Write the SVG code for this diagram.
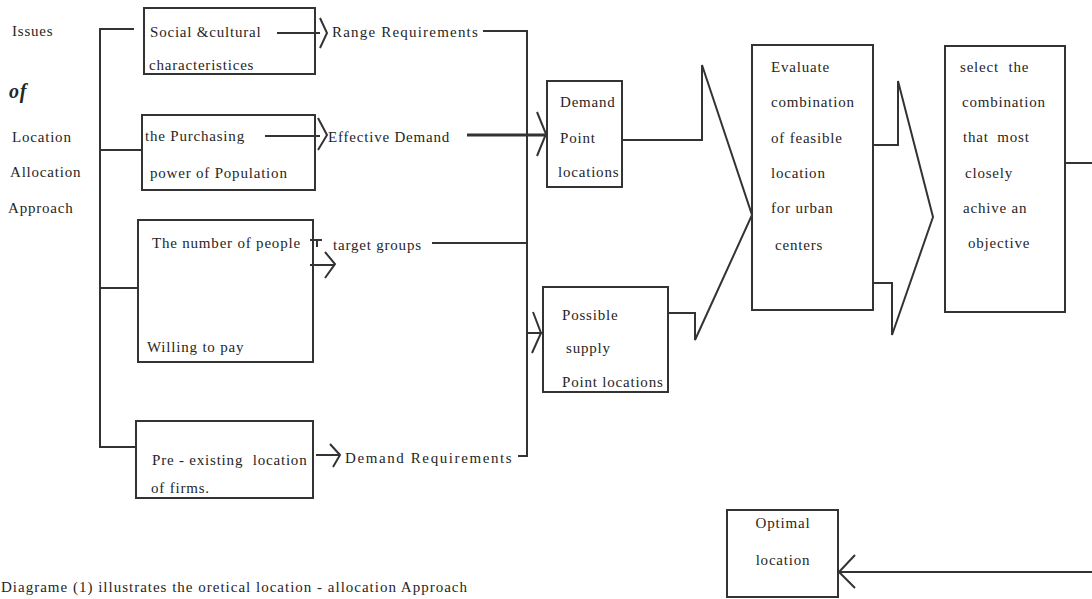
<svg xmlns="http://www.w3.org/2000/svg" width="1092" height="599" viewBox="0 0 1092 599">
<style>
.t { font-family: "Liberation Serif", "Times New Roman", serif; font-size: 15px; fill: #262626; letter-spacing: 0.8px; }
.m { text-anchor: middle; }
.box { fill: none; stroke: #333; stroke-width: 2; }
.ln { fill: none; stroke: #333; stroke-width: 2; stroke-linejoin: miter; }
.thick { stroke-width: 3; }
</style>
<rect width="1092" height="599" fill="#ffffff"/>

<g id="title-label">
  <text class="t" x="12" y="36">Issues</text>
  <text class="t" x="9" y="98" style="font-weight:bold;font-style:italic;font-size:20px">of</text>
  <text class="t" x="12" y="142">Location</text>
  <text class="t" x="10" y="177">Allocation</text>
  <text class="t" x="8" y="213">Approach</text>
</g>

<g id="social">
  <rect class="box" x="144" y="8" width="171" height="66"/>
  <text class="t" x="150" y="37">Social &amp;cultural</text>
  <text class="t" x="149" y="70">characteristices</text>
</g>

<g id="purchasing">
  <rect class="box" x="142" y="115" width="173" height="75"/>
  <text class="t" x="145" y="141">the Purchasing</text>
  <text class="t" x="150" y="178">power of Population</text>
</g>

<g id="people">
  <rect class="box" x="138" y="220" width="175" height="142"/>
  <text class="t" x="152" y="248">The number of people</text>
  <text class="t" x="147" y="352">Willing to pay</text>
</g>

<g id="preexisting">
  <rect class="box" x="136" y="421" width="177" height="77"/>
  <text class="t" x="152" y="465">Pre - existing <tspan dx="5">location</tspan></text>
  <text class="t" x="151" y="493">of firms.</text>
</g>

<g id="range"><text class="t" x="332" y="37" style="letter-spacing:1.2px">Range Requirements</text></g>
<g id="effective"><text class="t" x="328" y="142">Effective Demand</text></g>
<g id="target"><text class="t" x="333" y="250">target groups</text></g>
<g id="demand-req"><text class="t" x="345" y="463" style="letter-spacing:1.6px">Demand Requirements</text></g>

<g id="demand-point">
  <rect class="box" x="547" y="81" width="75" height="106"/>
  <text class="t" x="560" y="107">Demand</text>
  <text class="t" x="560" y="143">Point</text>
  <text class="t" x="558" y="177">locations</text>
</g>

<g id="supply-point">
  <rect class="box" x="543" y="287" width="125" height="105"/>
  <text class="t" x="562" y="320">Possible</text>
  <text class="t" x="566" y="353">supply</text>
  <text class="t" x="562" y="387">Point locations</text>
</g>

<g id="evaluate">
  <rect class="box" x="752" y="45" width="121" height="265"/>
  <text class="t" x="771" y="72">Evaluate</text>
  <text class="t" x="771" y="107">combination</text>
  <text class="t" x="771" y="143">of feasible</text>
  <text class="t" x="771" y="178">location</text>
  <text class="t" x="771" y="213">for urban</text>
  <text class="t" x="775" y="250">centers</text>
</g>

<g id="select">
  <rect class="box" x="945" y="46" width="120" height="266"/>
  <text class="t" x="960" y="72" style="word-spacing:5px">select the</text>
  <text class="t" x="962" y="107">combination</text>
  <text class="t" x="963" y="142" style="word-spacing:4px">that most</text>
  <text class="t" x="965" y="178">closely</text>
  <text class="t" x="963" y="213">achive an</text>
  <text class="t" x="968" y="248">objective</text>
</g>

<g id="optimal">
  <rect class="box" x="727" y="510" width="111" height="87"/>
  <text class="t m" x="783" y="528">Optimal</text>
  <text class="t m" x="783" y="565">location</text>
</g>

<g id="caption">
  <text class="t" x="1" y="592" style="letter-spacing:1px">Diagrame (1) illustrates the oretical location - allocation Approach</text>
</g>

<g id="connectors">
  <path class="ln" d="M134,29 H100 V447 H136"/>
  <path class="ln" d="M100,150 H142"/>
  <path class="ln" d="M100,288 H138"/>
  <path class="ln" d="M277,33 H320"/>
  <path class="ln" d="M320,18 L327,33 L320,48"/>
  <path class="ln" d="M483,31 H527 V456 H518"/>
  <path class="ln" d="M265,136 H320"/>
  <path class="ln" d="M318,118 L327,135 L318,150"/>
  <path class="ln thick" d="M467,135 H545"/>
  <path class="ln" d="M537,112 L546,134 L537,156"/>
  <path class="ln" d="M310,240 H322 M317,240 V247"/>
  <path class="ln" d="M310,265 H334"/>
  <path class="ln" d="M325,252 L335,264 L325,278"/>
  <path class="ln" d="M432,243 H527"/>
  <path class="ln" d="M527,333 H543"/>
  <path class="ln" d="M533,312 L541,333 L532,353"/>
  <path class="ln" d="M316,455 H340"/>
  <path class="ln" d="M330,444 L340,455 L333,467"/>
  <path class="ln" d="M622,140 H702 V65 L752,215 L695,340 V313 H668"/>
  <path class="ln" d="M873,145 H898 V81 L933,217 L892,335 V283 H873"/>
  <path class="ln" d="M1065,163 H1092"/>
  <path class="ln" d="M1092,572 H839"/>
  <path class="ln" d="M855,555 L839,572 L855,588"/>
</g>
</svg>
